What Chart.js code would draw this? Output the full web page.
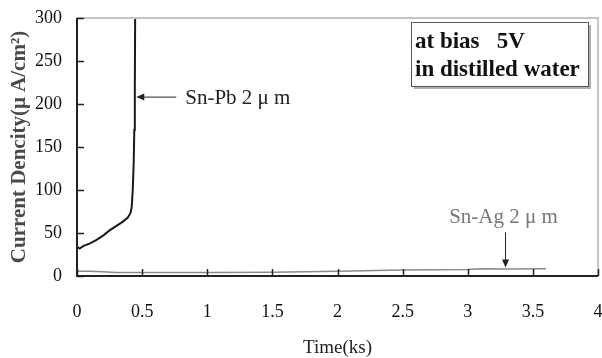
<!DOCTYPE html>
<html>
<head>
<meta charset="utf-8">
<script src="https://cdn.jsdelivr.net/npm/chart.js@4.4.0/dist/chart.umd.min.js"></script>
<style>
  html, body { margin: 0; padding: 0; background: #fff; }
</style>
</head>
<body>
<canvas id="chart" width="602" height="358"></canvas>
<script>
// Sn-Pb 2um (black curve, runs off the top near 0.45 ks)
const pbTime    = [0, 0.02, 0.05, 0.1, 0.15, 0.2, 0.25, 0.3, 0.35, 0.39, 0.41, 0.42, 0.428, 0.435, 0.44, 0.444, 0.447];
const pbCurrent = [34, 32, 35, 38, 42, 47, 53, 58, 63, 68, 73, 80, 100, 130, 170, 220, 320];

// Sn-Ag 2um (gray, near zero)
const agTime    = [0, 0.1, 0.2, 0.3, 0.5, 1, 1.5, 2, 2.5, 3, 3.1, 3.3, 3.6];
const agCurrent = [5.5, 5.5, 5, 4, 4, 4, 4.5, 5.5, 7, 7.5, 8.5, 8, 8.5];

const xTicks = [0, 0.5, 1, 1.5, 2, 2.5, 3, 3.5, 4];
const yTicks = [0, 50, 100, 150, 200, 250, 300];

const serif = '"Liberation Serif", "Times New Roman", serif';

const toPoints = (xs, ys) => xs.map((x, i) => ({ x: x, y: ys[i] }));

// inner ticks, frame, annotations
const decorations = {
  id: 'decorations',
  afterDatasetsDraw(chart) {
    const { ctx, chartArea: a, scales: { x, y } } = chart;
    ctx.save();

    // light frame top/right
    ctx.strokeStyle = '#c4c4c4';
    ctx.lineWidth = 2;
    ctx.beginPath();
    ctx.moveTo(a.left, a.top);
    ctx.lineTo(a.right, a.top);
    ctx.lineTo(a.right, a.bottom);
    ctx.stroke();

    // axes
    ctx.strokeStyle = '#222';
    ctx.lineWidth = 2;
    ctx.beginPath();
    ctx.moveTo(a.left, a.top);
    ctx.lineTo(a.left, a.bottom);
    ctx.lineTo(a.right, a.bottom);
    ctx.stroke();

    // inward ticks
    ctx.lineWidth = 1.5;
    ctx.beginPath();
    xTicks.forEach(v => {
      const px = Math.round(x.getPixelForValue(v)) + 0.5;
      ctx.moveTo(px, a.bottom);
      ctx.lineTo(px, a.bottom - 7);
    });
    yTicks.forEach(v => {
      const py = Math.round(y.getPixelForValue(v)) + 0.5;
      ctx.moveTo(a.left, py);
      ctx.lineTo(a.left + 7, py);
    });
    ctx.stroke();

    // Sn-Pb label + arrow
    const pbTipX = x.getPixelForValue(0.447) + 1;
    const pbTipY = y.getPixelForValue(208);
    ctx.strokeStyle = '#222';
    ctx.fillStyle = '#222';
    ctx.lineWidth = 1;
    ctx.beginPath();
    ctx.moveTo(pbTipX + 40, pbTipY);
    ctx.lineTo(pbTipX + 6, pbTipY);
    ctx.stroke();
    ctx.beginPath();
    ctx.moveTo(pbTipX, pbTipY);
    ctx.lineTo(pbTipX + 8, pbTipY - 3.5);
    ctx.lineTo(pbTipX + 8, pbTipY + 3.5);
    ctx.closePath();
    ctx.fill();
    ctx.font = '21px ' + serif;
    ctx.textBaseline = 'middle';
    ctx.textAlign = 'left';
    ctx.fillText('Sn-Pb 2 \u03BC m', pbTipX + 49, pbTipY + 1);

    // Sn-Ag label + arrow
    const agTipX = x.getPixelForValue(3.29);
    const agTipY = y.getPixelForValue(10);
    ctx.strokeStyle = '#222';
    ctx.fillStyle = '#222';
    ctx.beginPath();
    ctx.moveTo(agTipX, agTipY - 35);
    ctx.lineTo(agTipX, agTipY - 6);
    ctx.stroke();
    ctx.beginPath();
    ctx.moveTo(agTipX, agTipY);
    ctx.lineTo(agTipX - 3.5, agTipY - 8);
    ctx.lineTo(agTipX + 3.5, agTipY - 8);
    ctx.closePath();
    ctx.fill();
    ctx.fillStyle = '#777';
    ctx.textAlign = 'center';
    ctx.fillText('Sn-Ag 2 \u03BC m', agTipX - 2, agTipY - 50);

    // condition box
    const bx = 411, by = 22, bw = 177, bh = 64;
    ctx.fillStyle = '#b0b0b0';
    ctx.fillRect(bx + 3, by + 3, bw, bh);
    ctx.fillStyle = '#fff';
    ctx.fillRect(bx, by, bw, bh);
    ctx.strokeStyle = '#555';
    ctx.lineWidth = 1;
    ctx.strokeRect(bx + 0.5, by + 0.5, bw, bh);
    ctx.fillStyle = '#111';
    ctx.textAlign = 'left';
    ctx.font = 'bold 23px ' + serif;
    ctx.fillText('at bias   5V', bx + 4, by + 20);
    ctx.fillText('in distilled water', bx + 4, by + 48);

    ctx.restore();
  }
};

new Chart(document.getElementById('chart'), {
  type: 'line',
  data: {
    datasets: [
      {
        label: 'Sn-Pb 2um',
        data: toPoints(pbTime, pbCurrent),
        borderColor: '#1a1a1a',
        borderWidth: 2,
        pointRadius: 0,
        tension: 0
      },
      {
        label: 'Sn-Ag 2um',
        data: toPoints(agTime, agCurrent),
        borderColor: '#8a8a8a',
        borderWidth: 1.5,
        pointRadius: 0,
        tension: 0
      }
    ]
  },
  options: {
    responsive: false,
    animation: false,
    devicePixelRatio: 1,
    layout: { padding: { top: 18, right: 4, left: 0, bottom: 0 } },
    plugins: {
      legend: { display: false },
      tooltip: { enabled: false }
    },
    scales: {
      x: {
        type: 'linear',
        min: 0,
        max: 4,
        afterBuildTicks: (s) => { s.ticks = xTicks.map(v => ({ value: v })); },
        afterFit: (s) => { s.height = 82; s.paddingRight = 0; s.paddingLeft = 0; },
        grid: { display: false, drawTicks: false },
        border: { display: false },
        ticks: {
          color: '#111',
          padding: 25,
          maxRotation: 0,
          font: { family: serif, size: 18 },
          callback: (v) => String(v)
        },
        title: {
          display: true,
          text: 'Time(ks)',
          color: '#222',
          font: { family: serif, size: 19, lineHeight: 1 },
          padding: { top: 4, bottom: 0 }
        }
      },
      y: {
        min: 0,
        max: 300,
        afterBuildTicks: (s) => { s.ticks = yTicks.map(v => ({ value: v })); },
        afterFit: (s) => { s.width = 77; s.paddingTop = 0; s.paddingBottom = 0; },
        grid: { display: false, drawTicks: false },
        border: { display: false },
        ticks: {
          color: '#111',
          padding: 15,
          font: { family: serif, size: 18 }
        },
        title: {
          display: true,
          text: 'Current Dencity(\u03BC A/cm\u00B2)',
          color: '#4a4a4a',
          font: { family: serif, size: 21, weight: 'bold', lineHeight: 1 },
          padding: { top: 9, bottom: 0 }
        }
      }
    }
  },
  plugins: [decorations]
});
</script>
</body>
</html>
